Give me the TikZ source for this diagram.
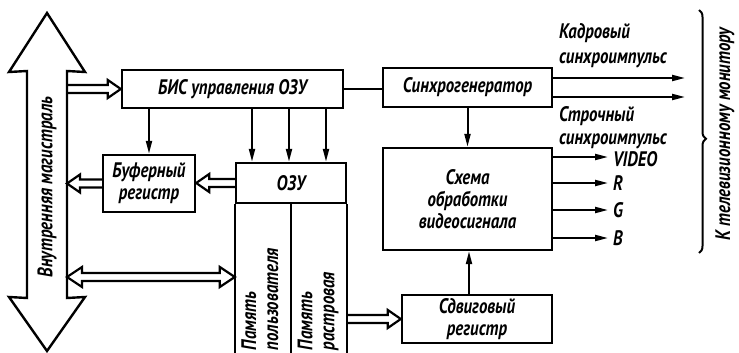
\documentclass[tikz,border=0pt]{standalone}
\usepackage{fontspec}
\setmainfont{PT Sans}[FakeStretch=0.8]
\usetikzlibrary{arrows.meta,decorations.pathreplacing,calc}
\begin{document}
\begin{tikzpicture}[x=1pt,y=-1pt,line width=2pt,
  txt/.style={font=\fontsize{21}{22}\selectfont\bfseries\itshape},
  box/.style={txt,draw,line width=2.4pt,inner sep=0pt,align=center},
  lbl/.style={txt,inner sep=0pt,align=left},
  arr/.style={-{Triangle[length=13pt,width=6pt]}},
  hol/.style={to path={let \p1=(\tikztostart),\p2=(\tikztotarget),\n1={sign(\x2-\x1)} in
    (\x1,\y1+4pt) -- ({\x2-\n1*13pt},\y1+4pt) -- ({\x2-\n1*13pt},\y1+9pt) -- (\x2,\y1)
    -- ({\x2-\n1*13pt},\y1-9pt) -- ({\x2-\n1*13pt},\y1-4pt) -- (\x1,\y1-4pt)}},
  holtwo/.style={to path={let \p1=(\tikztostart),\p2=(\tikztotarget),\n1={sign(\x2-\x1)} in
    (\x1,\y1) -- ({\x1+\n1*15pt},\y1-10pt) -- ({\x1+\n1*15pt},\y1-4pt)
    -- ({\x2-\n1*15pt},\y1-4pt) -- ({\x2-\n1*15pt},\y1-10pt) -- (\x2,\y1)
    -- ({\x2-\n1*15pt},\y1+10pt) -- ({\x2-\n1*15pt},\y1+4pt)
    -- ({\x1+\n1*15pt},\y1+4pt) -- ({\x1+\n1*15pt},\y1+10pt) -- cycle}}]
\useasboundingbox (0,0) rectangle (739,353);

% bus
\node[minimum width=38pt,minimum height=225pt,inner sep=0pt] (bus) at (47,184.5) {};
\draw[line width=2.4pt] (bus.north west) -- (9,72) -- (47,13) -- (85,72) -- (bus.north east)
  -- (bus.south east) -- (85,297) -- (47,351) -- (9,297) -- (bus.south west) -- cycle;
\node[txt,rotate=90] (bustxt) at (47,187) {Внутренняя магистраль};

% boxes
\node[box,minimum width=221pt,minimum height=38pt] (bis) at (232.5,89) {БИС управления ОЗУ};
\node[box,minimum width=169pt,minimum height=39pt] (sync) at (467.5,87.5) {Синхрогенератор};
\node[box,minimum width=92pt,minimum height=57pt] (buf) at (149,183.5) {Буферный\\регистр};
\node[box,minimum width=110pt,minimum height=40pt] (ozu) at (291,183) {ОЗУ};
\node[box,minimum width=169pt,minimum height=102pt] (vid) at (467.5,199) {Схема\\обработки\\видеосигнала};
\node[box,minimum width=150pt,minimum height=48pt] (shift) at (477,319) {Сдвиговый\\регистр};

% memory columns
\coordinate (colbot) at (0,353);
\draw[line width=2.4pt] (ozu.south west) -- (ozu.south west |- colbot);
\draw[line width=2.4pt] (ozu.south) -- (ozu.south |- colbot);
\draw[line width=2.4pt] (ozu.south east) -- (ozu.south east |- colbot);
\node[lbl,rotate=90,anchor=west] (memu) at (260,351) {Память\\пользователя};
\node[lbl,rotate=90,anchor=west] (memr) at (318,351) {Память\\растровая};

% thin connectors
\draw (bis.east) -- (bis.east -| sync.west);
\draw[arr] (bis.south -| buf.north) -- (buf.north);
\coordinate (c1) at (252,0);
\coordinate (c2) at (289,0);
\coordinate (c3) at (326,0);
\draw[arr] (bis.south -| c1) -- (ozu.north -| c1);
\draw[arr] (bis.south -| c2) -- (ozu.north -| c2);
\draw[arr] (bis.south -| c3) -- (ozu.north -| c3);
\draw[arr] (sync.south) -- (vid.north -| sync.south);
\coordinate (cs) at (469,0);
\draw[arr] (shift.north -| cs) -- (vid.south -| cs);

% hollow arrows
\draw[line width=2.2pt] (bus.east |- bis.west) to[hol] (bis.west);
\draw[line width=2.2pt] (buf.west) to[hol] (buf.west -| bus.east);
\draw[line width=2.2pt] (ozu.west) to[hol] (ozu.west -| buf.east);
\coordinate (mu) at (0,277);
\draw[line width=2.2pt] (bus.east |- mu) to[holtwo] (ozu.west |- mu);
\draw[line width=2.2pt] (shift.west -| ozu.east) to[hol] (shift.west);

% sync outputs
\coordinate (ko) at (685,78);
\coordinate (so) at (685,97);
\draw[arr] (sync.east |- ko) -- (ko);
\draw[arr] (sync.east |- so) -- (so);
\node[lbl,anchor=west] (k1) at (558,33) {Кадровый};
\node[lbl,anchor=west] (k2) at (558,60) {синхроимпульс};
\node[lbl,anchor=west] (s1) at (558,116) {Строчный};
\node[lbl,anchor=west] (s2) at (558,141) {синхроимпульс};

% video outputs
\coordinate (ov) at (608,157);
\coordinate (or) at (608,183);
\coordinate (og) at (608,210);
\coordinate (ob) at (608,238);
\draw[arr] (vid.east |- ov) -- (ov);
\draw[arr] (vid.east |- or) -- (or);
\draw[arr] (vid.east |- og) -- (og);
\draw[arr] (vid.east |- ob) -- (ob);
\node[lbl,anchor=west] (tv) at (612,159) {VIDEO};
\node[lbl,anchor=west] (tr) at (612,183) {R};
\node[lbl,anchor=west] (tg) at (612,210) {G};
\node[lbl,anchor=west] (tb) at (612,238) {B};

% brace and monitor label
\coordinate (bt) at (699,10);
\coordinate (bb) at (699,253);
\draw[line width=2pt,decorate,decoration={brace,amplitude=7pt,aspect=0.53}] (bt) -- (bb);
\node[txt,rotate=90] (mon) at (725,134) {К телевизионному монитору};
\end{tikzpicture}
\end{document}
